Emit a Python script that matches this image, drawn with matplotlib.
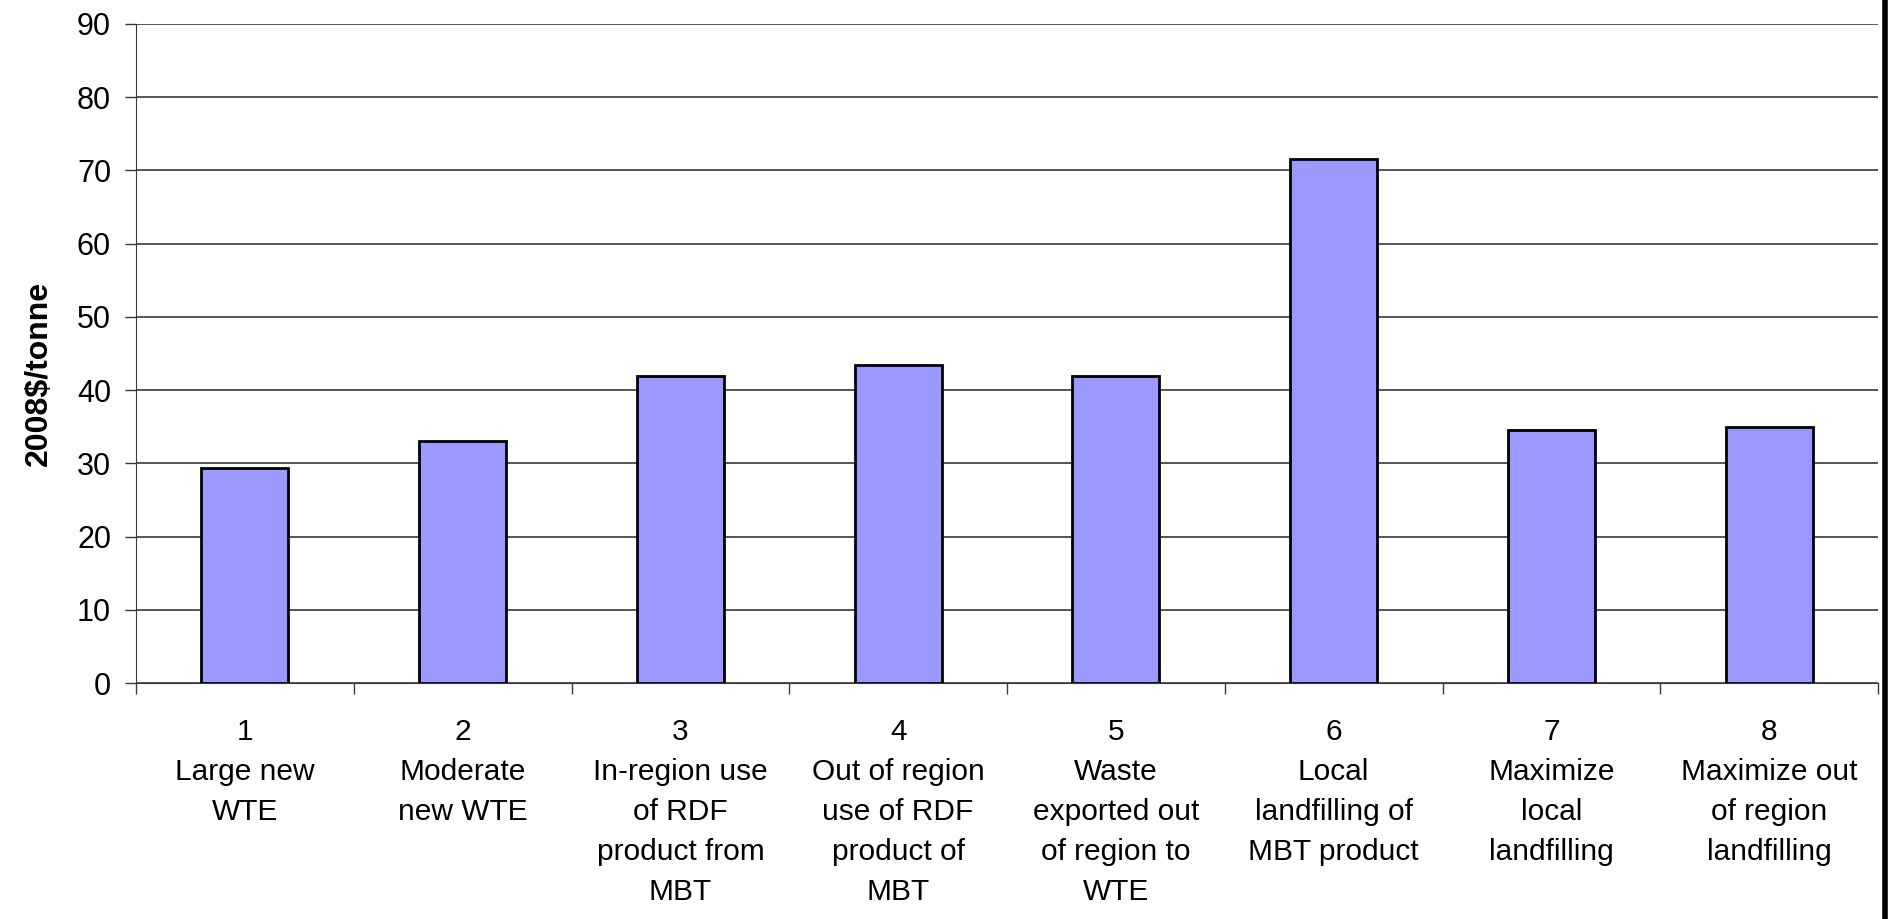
import numpy as np
import matplotlib.pyplot as plt
from matplotlib.lines import Line2D

plt.rcParams['font.family'] = ['Liberation Sans', 'DejaVu Sans']

# scenario numbers, descriptions and costs (2008$/tonne)
scenario_nums = ['1', '2', '3', '4', '5', '6', '7', '8']
scenario_names = ['Large new\nWTE',
                  'Moderate\nnew WTE',
                  'In-region use\nof RDF\nproduct from\nMBT',
                  'Out of region\nuse of RDF\nproduct of\nMBT',
                  'Waste\nexported out\nof region to\nWTE',
                  'Local\nlandfilling of\nMBT product',
                  'Maximize\nlocal\nlandfilling',
                  'Maximize out\nof region\nlandfilling']
costs = [29.3, 33.0, 41.9, 43.4, 41.9, 71.5, 34.5, 34.9]

bar_color = '#9999ff'

fig = plt.figure(figsize=(18.89, 9.19), dpi=100)
ax = fig.add_axes([0.0720, 0.2568, 0.9222, 0.7171])

x = np.arange(len(costs))
ax.bar(x, costs, width=0.4, color=bar_color, edgecolor='black', linewidth=2, zorder=3)

ax.set_xlim(-0.5, len(costs) - 0.5)
ax.set_ylim(0, 90)
ax.set_yticks(np.arange(0, 91, 10))
ax.yaxis.grid(True, color='#383838', linewidth=1.2, zorder=0)
ax.tick_params(axis='y', length=8, width=1, color='#383838', labelsize=22, pad=10)

# ticks on the category boundaries, labels under the bar centres
ax.set_xticks(np.arange(-0.5, len(costs), 1.0))
ax.set_xticklabels([])
ax.tick_params(axis='x', which='major', length=8, width=1, color='#383838')
ax.set_xticks(x, minor=True)
ax.set_xticklabels([n + '\n' + s for n, s in zip(scenario_nums, scenario_names)],
                   minor=True, fontsize=21.5, linespacing=1.55)
ax.tick_params(axis='x', which='minor', length=0, pad=25)

ax.set_ylabel('2008$/tonne', fontsize=23, fontweight='bold')
ax.yaxis.set_label_coords(-0.047, 0.47)

for side in ['top', 'right']:
    ax.spines[side].set_visible(False)
ax.spines['left'].set_color('#383838')
ax.spines['bottom'].set_color('#383838')

# dark border on the right edge of the picture
fig.add_artist(Line2D([0.998, 0.998], [0, 1], color='black', linewidth=4,
                      transform=fig.transFigure))

fig.savefig('out.png', dpi=100)
